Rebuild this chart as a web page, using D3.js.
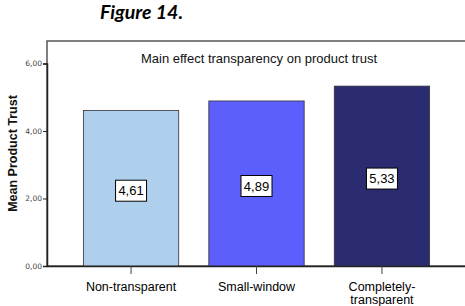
<!DOCTYPE html>
<html>
<head>
<meta charset="utf-8">
<script src="https://cdn.jsdelivr.net/npm/d3@7"></script>
<style>
  body { margin: 0; background: #fff; }
  svg { display: block; }
</style>
</head>
<body>
<div id="chart"></div>
<script>
const categories = ["Non-transparent", "Small-window", "Completely-transparent"];
const catLines = [["Non-transparent"], ["Small-window"], ["Completely-", "transparent"]];
const values = [4.61, 4.89, 5.33];
const labels = ["4,61", "4,89", "5,33"];
const yTicks = [0, 2, 4, 6];
const colors = ["#afd0ed", "#5c5ffc", "#2a2b70"];

const width = 465, height = 306;
const plot = { left: 47, right: 466, top: 41, bottom: 266 };

const svg = d3.select("#chart").append("svg")
    .attr("width", width)
    .attr("height", height);

// caption above the chart
svg.append("text")
    .attr("x", 100)
    .attr("y", 19)
    .attr("font-family", "Lato, 'Open Sans', sans-serif")
    .attr("font-weight", "bold")
    .attr("font-style", "italic")
    .attr("font-size", 19.5)
    .attr("fill", "#000")
    .text("Figure 14.");

const x = d3.scaleBand()
    .domain(categories)
    .range([plot.left, plot.right])
    .paddingInner(0.24)
    .paddingOuter(0.29);

const y = d3.scaleLinear()
    .domain([0, 6])
    .range([plot.bottom, 63.5]);

// frame
svg.append("rect")
    .attr("x", plot.left)
    .attr("y", plot.top)
    .attr("width", plot.right - plot.left + 5)
    .attr("height", plot.bottom - plot.top)
    .attr("fill", "#fff")
    .attr("stroke", "#555")
    .attr("stroke-width", 1.5);

svg.append("text")
    .attr("x", 259)
    .attr("y", 63)
    .attr("text-anchor", "middle")
    .attr("font-family", "'Liberation Sans', Arial, sans-serif")
    .attr("font-size", 13)
    .attr("fill", "#111")
    .text("Main effect transparency on product trust");

// bars
svg.selectAll(".bar")
    .data(values)
    .join("rect")
    .attr("class", "bar")
    .attr("x", (d, i) => x(categories[i]))
    .attr("y", d => y(d))
    .attr("width", x.bandwidth())
    .attr("height", d => y(0) - y(d))
    .attr("fill", (d, i) => colors[i])
    .attr("stroke", "#333")
    .attr("stroke-width", 0.8);

// value boxes
const boxes = svg.selectAll(".vlabel")
    .data(values)
    .join("g")
    .attr("class", "vlabel")
    .attr("transform", (d, i) => `translate(${x(categories[i]) + x.bandwidth() / 2},${(y(d) + y(0)) / 2 + 2.5})`);

boxes.append("rect")
    .attr("x", -15.5)
    .attr("y", -10.5)
    .attr("width", 31)
    .attr("height", 21)
    .attr("fill", "#fff")
    .attr("stroke", "#000")
    .attr("stroke-width", 1);

boxes.append("text")
    .attr("text-anchor", "middle")
    .attr("dy", "0.36em")
    .attr("font-family", "'Liberation Sans', Arial, sans-serif")
    .attr("font-size", 13)
    .attr("fill", "#000")
    .text((d, i) => labels[i]);

// y axis
const yAxis = svg.append("g")
    .attr("transform", `translate(${plot.left},0)`)
    .call(d3.axisLeft(y).tickValues(yTicks).tickSize(4).tickFormat(d => d3.format(".2f")(d).replace(".", ",")));
yAxis.select(".domain").attr("stroke", "#222").attr("stroke-width", 1.5);
yAxis.selectAll(".tick line").attr("stroke", "#222");
yAxis.selectAll(".tick text")
    .attr("font-family", "'DejaVu Sans', sans-serif")
    .attr("font-size", 7.5)
    .attr("fill", "#444")
    .attr("x", -5);

// x axis
const xAxis = svg.append("g")
    .attr("transform", `translate(0,${plot.bottom})`)
    .call(d3.axisBottom(x).tickSize(8).tickSizeOuter(0).tickFormat(""));
xAxis.select(".domain").attr("stroke", "#222").attr("stroke-width", 1.5);
xAxis.selectAll(".tick line").attr("stroke", "#444");

xAxis.selectAll(".tick").each(function (d, i) {
    const t = d3.select(this).append("text")
        .attr("text-anchor", "middle")
        .attr("font-family", "'Liberation Sans', Arial, sans-serif")
        .attr("font-size", 12.5)
        .attr("fill", "#000")
        .attr("y", 25);
    catLines[i].forEach((line, j) => {
        t.append("tspan").attr("x", 0).attr("dy", j === 0 ? 0 : 13).text(line);
    });
});

// y axis title
svg.append("text")
    .attr("transform", `translate(17,${(plot.top + plot.bottom) / 2}) rotate(-90)`)
    .attr("text-anchor", "middle")
    .attr("font-family", "'Liberation Sans', Arial, sans-serif")
    .attr("font-weight", "bold")
    .attr("font-size", 12.5)
    .attr("fill", "#111")
    .text("Mean Product Trust");
</script>
</body>
</html>
